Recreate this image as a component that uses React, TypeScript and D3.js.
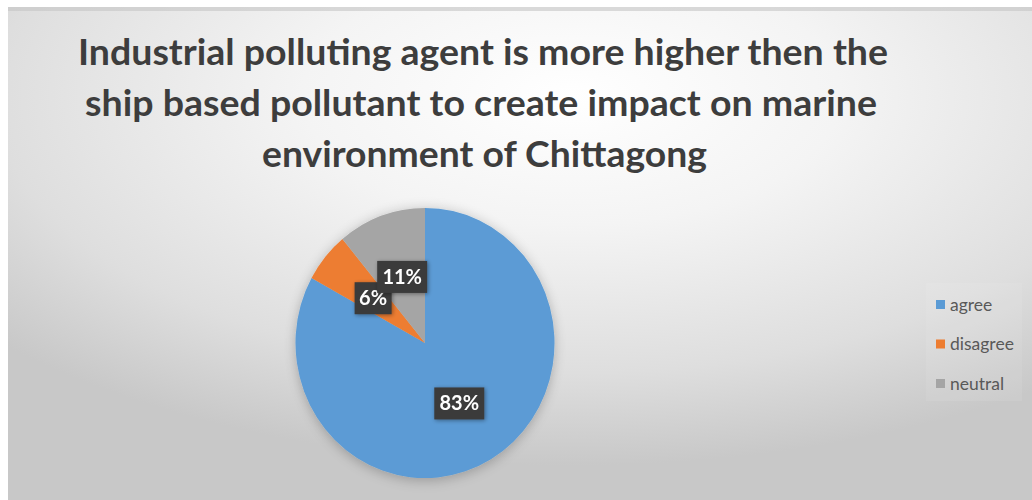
import React from "react";
import * as d3 from "d3";

const categories = ["agree", "disagree", "neutral"];
const values = [83, 6, 11];
const labels = ["83%", "6%", "11%"];
const colors = ["#5b9bd5", "#ed7d31", "#a5a5a5"];
const titleLines = [
  "Industrial polluting agent is more higher then the",
  "ship based pollutant to create impact on marine",
  "environment of Chittagong",
];

const W = 1032;
const H = 500;
const cx = 425;
const cy = 343;
const R = 129.5;
const sy = 1.043;

export default function App() {
  const pie = d3.pie<number>().sort(null).value((d) => d)(values);
  const arc = d3.arc<d3.PieArcDatum<number>>().innerRadius(0).outerRadius(R);
  const titleY = [65, 116, 167];
  const titleLen = [810, 792, 445];
  const titleX = [483, 481, 484.5];
  const legendY = d3.scalePoint<string>().domain(categories).range([305, 384]);
  const labelR = R * 0.52;

  return (
    <svg width={W} height={H} style={{ position: "absolute", left: 0, top: 0 }}>
      <defs>
        <radialGradient id="bg" cx="0.55" cy="0.18" r="0.75" gradientUnits="objectBoundingBox">
          <stop offset="0" stopColor="#ffffff" />
          <stop offset="0.35" stopColor="#f4f4f4" />
          <stop offset="0.75" stopColor="#dedede" />
          <stop offset="1" stopColor="#c8c8c8" />
        </radialGradient>
        <filter id="pshadow" x="-30%" y="-30%" width="160%" height="160%">
          <feGaussianBlur in="SourceAlpha" stdDeviation="6" />
          <feOffset dx="0" dy="2" />
          <feComponentTransfer>
            <feFuncA type="linear" slope="0.25" />
          </feComponentTransfer>
          <feMerge>
            <feMergeNode />
            <feMergeNode in="SourceGraphic" />
          </feMerge>
        </filter>
        <filter id="lshadow" x="-30%" y="-30%" width="160%" height="160%">
          <feGaussianBlur in="SourceAlpha" stdDeviation="2" />
          <feOffset dx="1" dy="1" />
          <feComponentTransfer>
            <feFuncA type="linear" slope="0.4" />
          </feComponentTransfer>
          <feMerge>
            <feMergeNode />
            <feMergeNode in="SourceGraphic" />
          </feMerge>
        </filter>
      </defs>
      <rect x={0} y={0} width={W} height={H} fill="#ffffff" />
      <rect x={8} y={7} width={W - 8} height={H - 7} fill="url(#bg)" />
      <rect x={8} y={7} width={W - 8} height={4} fill="#c4c4c4" opacity={0.6} />
      {titleLines.map((t, i) => (
        <text
          key={i}
          x={titleX[i]}
          y={titleY[i]}
          textAnchor="middle"
          fontFamily="Lato, 'Open Sans', sans-serif"
          fontWeight={700}
          fontSize={36}
          fill="#3d3d3d"
          textLength={titleLen[i]}
          lengthAdjust="spacingAndGlyphs"
        >
          {t}
        </text>
      ))}
      <g transform={`translate(${cx},${cy}) scale(1,${sy})`} filter="url(#pshadow)">
        {pie.map((p, i) => (
          <path key={i} d={arc(p) || ""} fill={colors[i]} />
        ))}
      </g>
      {pie.map((p, i) => {
        const a = (p.startAngle + p.endAngle) / 2;
        const x = cx + labelR * Math.sin(a);
        const y = cy - labelR * Math.cos(a) * sy;
        const w = labels[i].length === 3 ? 50 : 37;
        return (
          <g key={i} filter="url(#lshadow)">
            <rect x={x - w / 2} y={y - 16} width={w} height={32} fill="#3a3a3a" />
            <text
              x={x}
              y={y + 7}
              textAnchor="middle"
              fontFamily="Lato, 'Open Sans', sans-serif"
              fontWeight={700}
              fontSize={20}
              fill="#ffffff"
            >
              {labels[i]}
            </text>
          </g>
        );
      })}
      <rect x={926} y={283} width={96} height={118} fill="#ffffff" opacity={0.08} />
      {categories.map((c, i) => {
        const y = legendY(c) as number;
        return (
          <g key={c}>
            <rect x={936} y={y - 5} width={9} height={9} fill={colors[i]} />
            <text
              x={950}
              y={y + 5.5}
              fontFamily="Lato, 'Open Sans', sans-serif"
              fontSize={17.5}
              fill="#595959"
            >
              {c}
            </text>
          </g>
        );
      })}
    </svg>
  );
}
